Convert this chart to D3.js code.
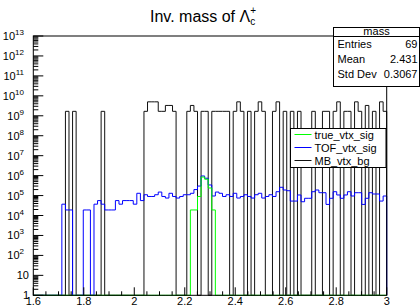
<!DOCTYPE html>
<meta charset="utf-8">
<style>
body { margin: 0; background: #fff; }
text { font-family: 'Liberation Sans', Arial, sans-serif; }
</style>
<body>
<div class="viz"></div>
<script src="https://d3js.org/d3.v7.min.js"></script>
<script>
// histogram binning (mass, GeV/c^2)
const massLo = 1.6, massHi = 3.0, nBins = 99;

// bin contents, bin 0 .. 98
const trueSig = [
  0,0,0,0,0,0,0,0,0,0, 0,0,0,0,0,0,0,0,0,0,
  0,0,0,0,0,0,0,0,0,0, 0,0,0,0,0,0,0,0,0,0,
  0,0,0,0,1.9e4,1.9e4,9e4,8.5e5,6.6e5,2.4e5, 1.9e4,0,0,0,0,0,0,0,0,0,
  0,0,0,0,0,0,0,0,0,0, 0,0,0,0,0,0,0,0,0,0,
  0,0,0,0,0,0,0,0,0,0, 0,0,0,0,0,0,0,0,0
];
const tofSig = [
  0,0,0,0,0,0,0,0,3.7e4,1.9e4, 1.9e4,0,0,0,1.9e4,1.9e4,0,3.7e4,5.6e4,3.7e4,
  1.9e4,1.9e4,1.9e4,5.6e4,3.7e4,5.6e4,5.6e4,5.6e4,3.7e4,1.3e5, 5.6e4,1.1e5,9e4,9e4,1.1e5,1.5e5,9e4,7.5e4,1.3e5,9e4,
  7.5e4,9e4,1.1e5,1.1e5,1.3e5,2e5,3e5,9.6e5,7.4e5,3.4e5, 9.5e4,1.5e5,1.3e5,9e4,1.1e5,9e4,1.3e5,7.5e4,9e4,1.1e5,
  9e4,7.5e4,1.1e5,1.3e5,7.5e4,9e4,1.1e5,9e4,1.56e5,2.6e5, 1.9e5,1.75e5,5.3e4,5.3e4,1.07e5,4.9e4,7.3e4,7.3e4,1.56e5,1.9e5,
  1.39e5,1.39e5,3.6e4,7.3e4,1.56e5,1.07e5,7.3e4,1.07e5,1.56e5,9.5e4, 1.39e5,1.39e5,3.6e4,7.3e4,1.39e5,1.2e5,1.2e5,5.3e4,9.5e4
];
const mbBg = [
  0,0,0,0,0,0,0,0,0,1.67e9, 0,1.67e9,0,0,0,0,0,0,0,1.67e9,
  0,0,0,0,0,0,0,0,0,0, 0,1.67e9,5e9,5e9,5e9,1.67e9,1.67e9,3.3e9,3.3e9,1.67e9,
  0,0,0,1.67e9,3.3e9,1.67e9,0,1.67e9,1.67e9,0, 1.67e9,1.67e9,1.67e9,1.67e9,1.67e9,0,1.67e9,5e9,1.67e9,0,
  1.67e9,0,1.67e9,5e9,1.67e9,0,0,1.67e9,5e9,0, 1.67e9,0,1.67e9,0,1.67e9,0,0,0,1.67e9,0,
  0,1.67e9,1.67e9,0,1.67e9,5e9,0,1.67e9,1.67e9,0, 5e9,1.67e9,0,3.3e9,0,1.67e9,0,5e9,1.67e9
];

const xTicks = [1.6, 1.8, 2, 2.2, 2.4, 2.6, 2.8, 3];
const yDecades = d3.range(0, 14);
const legendNames = ["true_vtx_sig", "TOF_vtx_sig", "MB_vtx_bg"];
const statNames = ["Entries", "Mean", "Std Dev"];
const statValues = ["69", "2.431", "0.3067"];

const W = 420, H = 306;
const frame = {left: 33.3, right: 386.7, top: 36, bottom: 295.3};

const svg = d3.select(".viz").append("svg")
    .attr("width", W)
    .attr("height", H);

const x = d3.scaleLinear().domain([1.6, 3]).range([frame.left, frame.right]);
const y = d3.scaleLog().domain([1, 1e13]).range([frame.bottom, frame.top]);

const binW = (massHi - massLo) / nBins;

function histPath(vals) {
  let p = "M" + x(massLo) + "," + frame.bottom;
  vals.forEach(function(v, i) {
    const yy = v > 0 ? y(v) : frame.bottom;
    p += "V" + yy + "H" + x(massLo + (i + 1) * binW);
  });
  p += "V" + frame.bottom;
  return p;
}

// histograms
const series = [
  {vals: mbBg, color: "#111"},
  {vals: tofSig, color: "#0000ff"},
  {vals: trueSig, color: "#00ff00"}
];
svg.append("g")
  .selectAll("path")
  .data(series)
  .enter()
  .append("path")
    .attr("d", function(d) { return histPath(d.vals); })
    .attr("fill", "none")
    .attr("stroke", function(d) { return d.color; })
    .attr("stroke-width", 1);

// frame
svg.append("rect")
    .attr("x", frame.left).attr("y", frame.top)
    .attr("width", frame.right - frame.left)
    .attr("height", frame.bottom - frame.top)
    .attr("fill", "none")
    .attr("stroke", "#000")
    .attr("stroke-width", 1);

// x axis, ticks point up into the frame
const xMinor = d3.range(1.6, 3.0001, 0.05);
svg.append("g").selectAll("line")
  .data(xMinor)
  .enter()
  .append("line")
    .attr("x1", function(d) { return x(d); })
    .attr("x2", function(d) { return x(d); })
    .attr("y1", frame.bottom)
    .attr("y2", function(d, i) { return frame.bottom - (i % 4 == 0 ? 8 : 4); })
    .attr("stroke", "#000");

svg.append("g").selectAll("text")
  .data(xTicks)
  .enter()
  .append("text")
    .attr("x", function(d) { return x(d); })
    .attr("y", frame.bottom + 10)
    .attr("text-anchor", "middle")
    .style("font-size", "11px")
    .text(function(d) { return d; });

// y axis (log)
const yMinor = [];
yDecades.slice(0, -1).forEach(function(e) {
  for (let k = 2; k < 10; k++) yMinor.push(k * Math.pow(10, e));
});
svg.append("g").selectAll("line")
  .data(yMinor)
  .enter()
  .append("line")
    .attr("x1", frame.left).attr("x2", frame.left + 5)
    .attr("y1", function(d) { return y(d); })
    .attr("y2", function(d) { return y(d); })
    .attr("stroke", "#000");
svg.append("g").selectAll("line")
  .data(yDecades)
  .enter()
  .append("line")
    .attr("x1", frame.left).attr("x2", frame.left + 10)
    .attr("y1", function(d) { return y(Math.pow(10, d)); })
    .attr("y2", function(d) { return y(Math.pow(10, d)); })
    .attr("stroke", "#000");

const yLab = svg.append("g").selectAll("text")
  .data(yDecades)
  .enter()
  .append("text")
    .attr("x", function(d) { return d < 2 ? 29 : 24; })
    .attr("y", function(d) { return y(Math.pow(10, d)) + 4; })
    .attr("text-anchor", "end")
    .style("font-size", "11px");
yLab.append("tspan").text(function(d) { return d == 0 ? "1" : "10"; });
yLab.filter(function(d) { return d >= 2; })
  .append("tspan")
    .attr("dy", -5)
    .style("font-size", "8px")
    .text(function(d) { return d; });

// title
const title = svg.append("text")
    .attr("x", 150)
    .attr("y", 22)
    .style("font-size", "16px");
title.append("tspan").text("Inv. mass of \u039b");
title.append("tspan").attr("dy", 3).style("font-size", "10px").text("c");
title.append("tspan").attr("dx", -5).attr("dy", -11).style("font-size", "10px").text("+");

// stats box
const st = svg.append("g").attr("transform", "translate(333.5,27.5)");
st.append("rect").attr("width", 86).attr("height", 59)
    .attr("fill", "#fff").attr("stroke", "#000");
st.append("line").attr("x1", 0).attr("x2", 86).attr("y1", 9).attr("y2", 9).attr("stroke", "#000");
st.append("text").attr("x", 43).attr("y", 7.5).attr("text-anchor", "middle")
    .style("font-size", "11px").text("mass");
statNames.forEach(function(n, i) {
  st.append("text").attr("x", 4).attr("y", 20 + i * 15).style("font-size", "11px").text(n);
  st.append("text").attr("x", 84).attr("y", 20 + i * 15).attr("text-anchor", "end")
    .style("font-size", "11px").text(statValues[i]);
});

// legend
const lg = svg.append("g").attr("transform", "translate(290.5,128.5)");
lg.append("rect").attr("width", 95.5).attr("height", 39)
    .attr("fill", "#fff").attr("stroke", "#000");
legendNames.forEach(function(n, i) {
  const yy = 6 + i * 13;
  lg.append("line").attr("x1", 4).attr("x2", 21).attr("y1", yy).attr("y2", yy)
    .attr("stroke", series[2 - i].color);
  lg.append("text").attr("x", 24).attr("y", yy + 4).style("font-size", "11px").text(n);
});
</script>
</body>
